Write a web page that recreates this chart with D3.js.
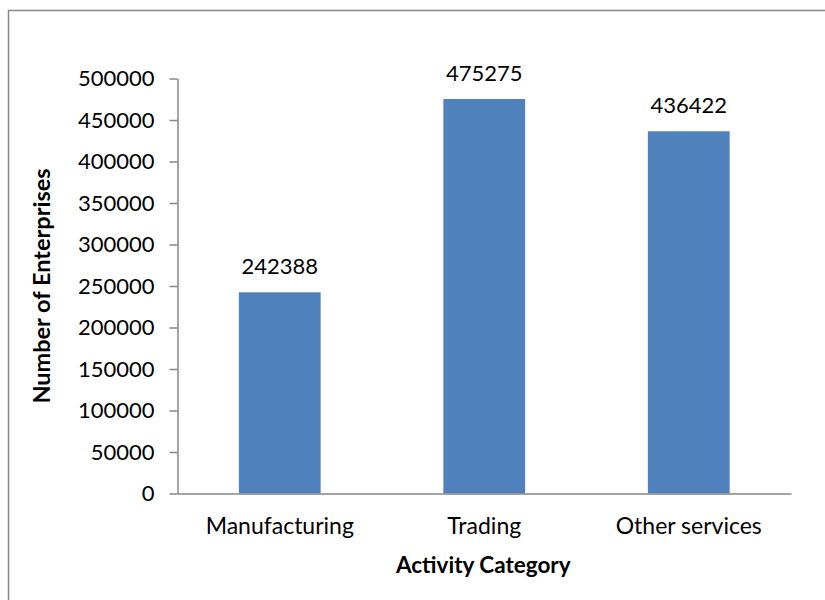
<!DOCTYPE html>
<html>
<head>
<meta charset="utf-8">
<script src="https://cdn.jsdelivr.net/npm/d3@7/dist/d3.min.js"></script>
<style>
  html, body { margin: 0; padding: 0; background: #fff; }
  svg { display: block; font-family: Lato, "Open Sans", sans-serif; }
</style>
</head>
<body>
<svg id="chart" width="825" height="600"></svg>
<script>
// Enterprises by activity category
const categories = ["Manufacturing", "Trading", "Other services"];
const enterprises = [242388, 475275, 436422];
const yTicks = [0, 50000, 100000, 150000, 200000, 250000, 300000, 350000, 400000, 450000, 500000];

const svg = d3.select("#chart");
const axisColor = "#868686";
const fontStack = "Lato, 'Open Sans', sans-serif";

// chart-area frame
svg.append("rect")
  .attr("x", 8.5).attr("y", 10.5)
  .attr("width", 840).attr("height", 620)
  .attr("fill", "none").attr("stroke", axisColor).attr("stroke-width", 1.5);

const plot = { left: 177.5, right: 791, top: 78.5, bottom: 493.5 };

const x = d3.scaleBand()
  .domain(categories)
  .range([plot.left, plot.right])
  .paddingInner(0.6)
  .paddingOuter(0.3);

const y = d3.scaleLinear()
  .domain([0, 500000])
  .range([plot.bottom, plot.top]);

// bars
svg.append("g").selectAll("rect")
  .data(categories)
  .join("rect")
  .attr("x", d => x(d))
  .attr("width", x.bandwidth())
  .attr("y", (d, i) => y(enterprises[i]))
  .attr("height", (d, i) => y(0) - y(enterprises[i]))
  .attr("fill", "#4F81BD");

// value labels
svg.append("g").selectAll("text")
  .data(categories)
  .join("text")
  .attr("x", d => x(d) + x.bandwidth() / 2)
  .attr("y", (d, i) => y(enterprises[i]) - 18)
  .attr("text-anchor", "middle")
  .attr("font-size", 22)
  .attr("fill", "#000")
  .text((d, i) => enterprises[i]);

// y axis
const yAxis = svg.append("g")
  .attr("transform", `translate(${plot.left},0)`)
  .call(d3.axisLeft(y).tickValues(yTicks).tickFormat(d3.format("d")).tickSizeInner(8).tickSizeOuter(0).tickPadding(15));
yAxis.select(".domain").attr("stroke", axisColor).attr("stroke-width", 1.5);
yAxis.selectAll(".tick line").attr("stroke", axisColor).attr("stroke-width", 1.5);
yAxis.selectAll(".tick text").attr("font-size", 22).attr("fill", "#000").attr("font-family", fontStack);

// x axis
const xAxis = svg.append("g")
  .attr("transform", `translate(0,${plot.bottom})`)
  .call(d3.axisBottom(x).tickSize(0).tickPadding(24));
xAxis.select(".domain").attr("stroke", axisColor).attr("stroke-width", 1.5);
xAxis.selectAll(".tick text").attr("font-size", 23).attr("fill", "#000").attr("font-family", fontStack);

// axis titles
svg.append("text")
  .attr("x", (plot.left + plot.right) / 2 - 1)
  .attr("y", 573)
  .attr("text-anchor", "middle")
  .attr("font-size", 22.5)
  .attr("font-weight", "bold")
  .text("Activity Category");

svg.append("text")
  .attr("transform", `translate(50,${(plot.top + plot.bottom) / 2}) rotate(-90)`)
  .attr("text-anchor", "middle")
  .attr("font-size", 23.5)
  .attr("font-weight", "bold")
  .text("Number of Enterprises");
</script>
</body>
</html>
